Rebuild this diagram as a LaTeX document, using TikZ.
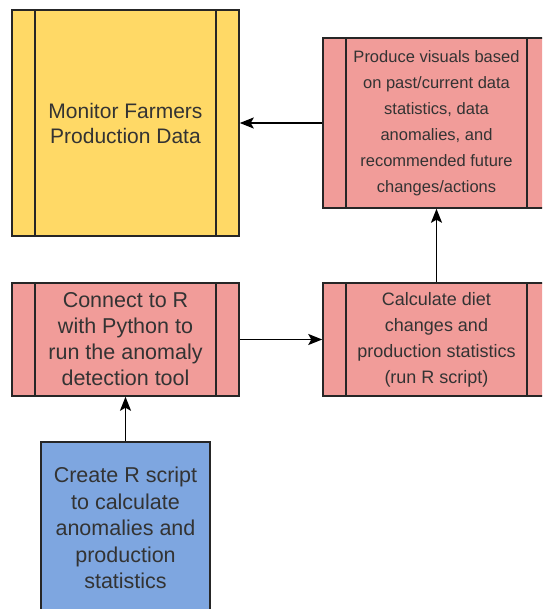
\documentclass[tikz,border=0pt]{standalone}
\usepackage{fontspec}
\setmainfont{Liberation Sans}
\usetikzlibrary{arrows.meta}
\definecolor{ylw}{HTML}{FFD966}
\definecolor{rd}{HTML}{F19C99}
\definecolor{blu}{HTML}{7EA6E0}
\definecolor{ink}{HTML}{333333}
\tikzset{
  box/.style={draw=black!85, line width=1.5pt, text=ink, align=center,
    inner sep=0pt, minimum width=227pt},
  procbox/.style={box, path picture={
      \draw[line width=1.5pt, black!85]
        ([xshift=23pt]path picture bounding box.north west) --
        ([xshift=23pt]path picture bounding box.south west)
        ([xshift=-23pt]path picture bounding box.north east) --
        ([xshift=-23pt]path picture bounding box.south east);}},
  flow/.style={line width=1.8pt, -{Stealth[length=14pt,width=11pt,inset=3pt]}},
}
\begin{document}
\begin{tikzpicture}[x=1pt,y=-1pt]
  \clip (0,0) rectangle (542,609);
  \fill[white] (0,0) rectangle (542,609);

  \node[procbox, fill=ylw, minimum height=226pt,
        font=\fontsize{21}{25}\selectfont] (mon) at (125.5,123)
    {Monitor Farmers\\Production Data};

  \node[procbox, fill=rd, minimum height=170pt,
        font=\fontsize{16.5}{26}\selectfont] (vis) at (436.5,123)
    {Produce visuals based\\on past/current data\\statistics, data\\anomalies, and\\recommended future\\changes/actions};

  \node[procbox, fill=rd, minimum height=113pt,
        font=\fontsize{21.5}{26}\selectfont] (conn) at (125.5,339.5)
    {Connect to R\\with Python to\\run the anomaly\\detection tool};

  \node[procbox, fill=rd, minimum height=113pt,
        font=\fontsize{18}{26}\selectfont] (calc) at (436.5,339.5)
    {Calculate diet\\changes and\\production statistics\\(run R script)};

  \node[box, fill=blu, minimum width=169pt, minimum height=172pt,
        font=\fontsize{21.5}{26.5}\selectfont] (rs) at (125.5,528)
    {Create R script\\to calculate\\anomalies and\\production\\statistics};

  \draw[flow] (vis.west) -- (vis.west -| mon.east);
  \draw[flow] (calc.north) -- (vis.south);
  \draw[flow] (conn.east) -- (calc.west);
  \draw[flow] (rs.north) -- (conn.south);
\end{tikzpicture}
\end{document}
